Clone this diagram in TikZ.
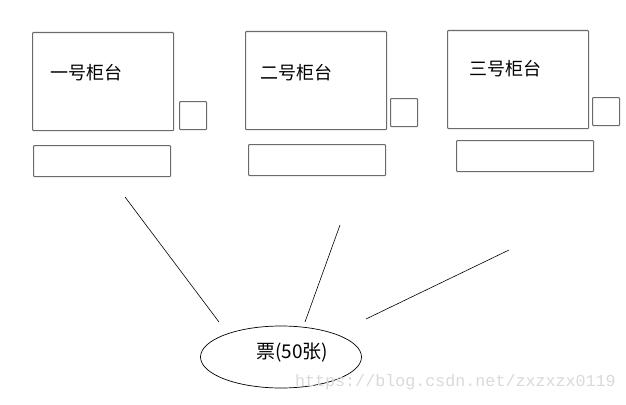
\documentclass[tikz,border=0pt]{standalone}
\usepackage{fontspec}
\setmainfont{Noto Sans CJK SC}
\newfontfamily\wmfont{Liberation Mono}
\usetikzlibrary{shapes.geometric}

\begin{document}
\begin{tikzpicture}[x=1pt, y=-1pt]
    \tikzset{box/.style={draw=black!58, line width=1.1pt, rounded corners=0.8pt, anchor=north west, inner sep=0pt},
             wire/.style={draw=black, line width=0.6pt},
             lbl/.style={anchor=west, inner sep=0pt, font=\fontsize{18}{21}\selectfont}}
    \useasboundingbox (0,0) rectangle (626,404);
    % counters: big box, small box, bottom box, label
    \foreach \n/\bx/\by/\sx/\sy/\dx/\dy/\tx/\ty/\name in {
        1/32/32/179/101/33/145/50/73/一号柜台,
        2/245/31/390/98/248/144/260/73/二号柜台,
        3/447/30/592/97/456/140/469/69/三号柜台} {
        \node[box, minimum width=141pt, minimum height=98pt] (big\n) at (\bx, \by) {};
        \node[box, minimum width=27pt, minimum height=28pt] (small\n) at (\sx, \sy) {};
        \node[box, minimum width=137pt, minimum height=31pt] (desk\n) at (\dx, \dy) {};
        \node[lbl] (name\n) at (\tx, \ty) {\name};
    }
    % tickets
    \node[draw=black, line width=0.7pt, ellipse, minimum width=161pt, minimum height=62pt] (piao) at (281, 357) {};
    \node[inner sep=0pt, font=\fontsize{19}{22}\selectfont] (piaotxt) at (292, 353) {票(50张)};
    \coordinate (a1) at (125, 197);
    \coordinate (b1) at (219, 322);
    \coordinate (a2) at (340, 225);
    \coordinate (b2) at (305, 322);
    \coordinate (a3) at (509, 250);
    \coordinate (b3) at (366, 319);
    \foreach \i in {1, 2, 3} {
        \draw[wire] (a\i) -- (b\i);
    }
    \node[anchor=east, inner sep=0pt, text=black!15, font=\wmfont\fontsize{16.7}{18}\selectfont] (mark) at (616, 382) {https://blog.csdn.net/zxzxzx0119};
\end{tikzpicture}
\end{document}
